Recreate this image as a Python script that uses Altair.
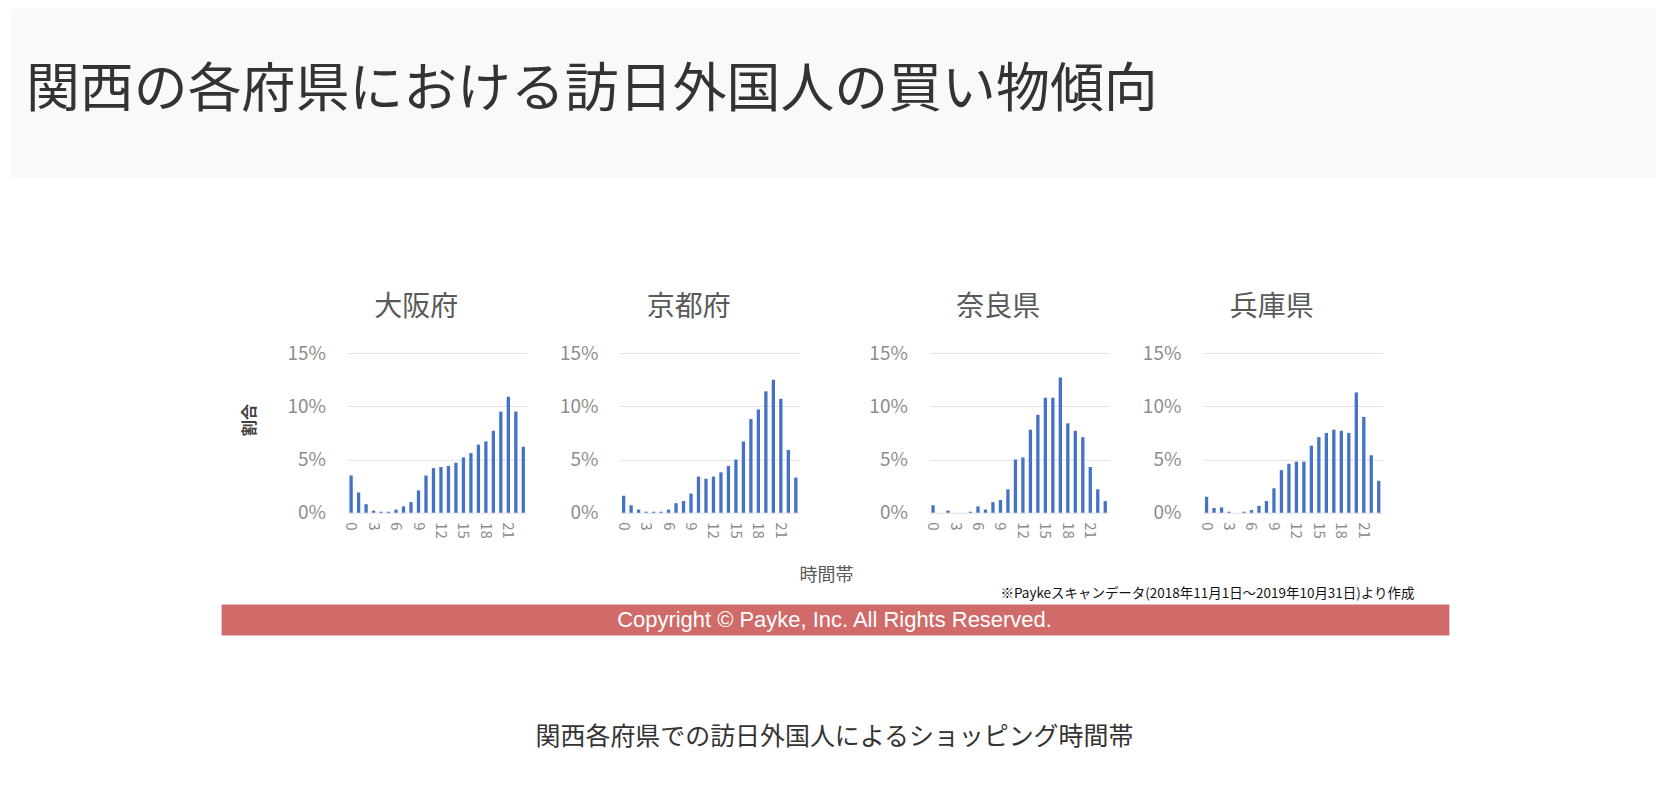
import altair as alt
import pandas as pd

JP = "Noto Sans CJK JP"

# ---------------- data ----------------
hours = list(range(24))
prefectures = ["大阪府", "京都府", "奈良県", "兵庫県"]
osaka = [3.5, 1.9, 0.8, 0.2, 0.1, 0.1, 0.3, 0.6, 1.0, 2.1, 3.5, 4.2,
         4.3, 4.4, 4.7, 5.2, 5.6, 6.4, 6.7, 7.7, 9.5, 10.9, 9.5, 6.2]
kyoto = [1.6, 0.7, 0.3, 0.1, 0.1, 0.1, 0.3, 0.9, 1.1, 1.8, 3.4, 3.2,
         3.4, 3.8, 4.4, 5.0, 6.7, 8.8, 9.7, 11.4, 12.5, 10.7, 5.9, 3.3]
nara = [0.7, 0.0, 0.2, 0.0, 0.0, 0.1, 0.6, 0.3, 1.0, 1.2, 2.2, 5.0,
        5.2, 7.8, 9.2, 10.8, 10.8, 12.7, 8.4, 7.7, 7.1, 4.3, 2.2, 1.1]
hyogo = [1.5, 0.45, 0.5, 0.1, 0.0, 0.1, 0.25, 0.65, 1.1, 2.3, 4.0, 4.6,
         4.8, 4.8, 6.3, 7.1, 7.5, 7.8, 7.7, 7.5, 11.3, 9.0, 5.4, 3.0]
series = [osaka, kyoto, nara, hyogo]
y_tick_values = [0, 5, 10, 15]
x_tick_hours = [0, 3, 6, 9, 12, 15, 18, 21]

page_title = "関西の各府県における訪日外国人の買い物傾向"
y_title = "割合"
x_title = "時間帯"
note = "※Paykeスキャンデータ(2018年11月1日～2019年10月31日)より作成"
copyright_text = "Copyright © Payke, Inc. All Rights Reserved."
caption = "関西各府県での訪日外国人によるショッピング時間帯"

rows = []
for name, vals in zip(prefectures, series):
    for h, v in zip(hours, vals):
        rows.append({"pref": name, "hour": h, "share": v / 100.0})
df = pd.DataFrame(rows)

TOTAL_W = 1648
PANEL_W = 180
PANEL_H = 160
TOP = -345          # header top relative to the panel row's top
BOT = PANEL_H       # footer origin relative to the panel row's top


def one(text):
    return pd.DataFrame({"t": [text]})


def dummy():
    return pd.DataFrame({"a": [0]})


# ---------------- header + footer (drawn in the leading cell) ----------------
anchor = alt.Chart(dummy()).mark_point(opacity=0).encode(
    x=alt.value(0), y=alt.value(0)
)
header_bg = alt.Chart(dummy()).mark_rect(color="#f9f9f9").encode(
    x=alt.value(0), x2=alt.value(TOTAL_W), y=alt.value(TOP), y2=alt.value(TOP + 170)
)
header_txt = alt.Chart(one(page_title)).mark_text(
    align="left", baseline="middle", fontSize=54, font=JP, color="#333333"
).encode(text="t:N", x=alt.value(15), y=alt.value(TOP + 83))

f_xtitle = alt.Chart(one(x_title)).mark_text(
    fontSize=18, font=JP, color="#595959", baseline="middle", align="center"
).encode(text="t:N", x=alt.value(817), y=alt.value(BOT + 63))
f_note = alt.Chart(one(note)).mark_text(
    fontSize=13.5, font=JP, color="#111111", baseline="middle", align="right"
).encode(text="t:N", x=alt.value(1406), y=alt.value(BOT + 81))
f_bar = alt.Chart(dummy()).mark_rect(color="#d06b69").encode(
    x=alt.value(211), x2=alt.value(1441), y=alt.value(BOT + 92), y2=alt.value(BOT + 123)
)
f_copy = alt.Chart(one(copyright_text)).mark_text(
    fontSize=22, font="Liberation Sans", color="#ffffff", baseline="middle",
    align="center",
).encode(text="t:N", x=alt.value(825), y=alt.value(BOT + 107))
f_caption = alt.Chart(one(caption)).mark_text(
    fontSize=25, font=JP, color="#333333", baseline="middle", align="center"
).encode(text="t:N", x=alt.value(825), y=alt.value(BOT + 225))

lead = alt.layer(
    anchor, header_bg, header_txt, f_xtitle, f_note, f_bar, f_copy, f_caption
).properties(width=337, height=PANEL_H)


def spacer(w):
    return alt.Chart(dummy()).mark_point(opacity=0).encode(
        x=alt.value(0), y=alt.value(0)
    ).properties(width=w, height=PANEL_H)


def panel(name, first):
    d = df[df["pref"] == name]
    bars = alt.Chart(d).mark_bar(color="#4472c4").encode(
        x=alt.X(
            "hour:O",
            title=None,
            scale=alt.Scale(paddingInner=0.56, paddingOuter=0.28),
            axis=alt.Axis(
                values=x_tick_hours, labelAngle=90, labelFontSize=15,
                labelColor="#8c8c8c", labelPadding=9, ticks=False,
                domain=False, grid=False, labelFont=JP,
            ),
        ),
        y=alt.Y(
            "share:Q",
            title=None,
            scale=alt.Scale(domain=[0, 0.15], nice=False),
            axis=alt.Axis(
                values=[v / 100.0 for v in y_tick_values], format=".0%",
                labelFontSize=19, labelColor="#8c8c8c", labelPadding=22,
                ticks=False, domain=False, grid=True, gridColor="#e2e2e2",
                gridWidth=1, labelFont=JP,
            ),
        ),
    )
    ttl = alt.Chart(one(name)).mark_text(
        fontSize=28, font=JP, color="#595959", baseline="middle", align="center"
    ).encode(text="t:N", x=alt.value(PANEL_W / 2 - 21), y=alt.value(-45))
    layers = [bars, ttl]
    if first:
        yt = alt.Chart(one(y_title)).mark_text(
            fontSize=16, font=JP, color="#404040", angle=270,
            baseline="middle", align="center", fontWeight="bold",
        ).encode(text="t:N", x=alt.value(-98), y=alt.value(67))
        layers.append(yt)
    return alt.layer(*layers).properties(width=PANEL_W, height=PANEL_H)


chart = alt.hconcat(
    lead, panel(prefectures[0], True),
    spacer(93), panel(prefectures[1], False),
    spacer(130), panel(prefectures[2], False),
    spacer(94), panel(prefectures[3], False),
    spacing=0, bounds="flush",
).properties(padding=0).configure(font=JP).configure_view(
    strokeWidth=0, stroke="transparent"
)

chart.save("out.html", embed_options={"renderer": "svg", "actions": False})
